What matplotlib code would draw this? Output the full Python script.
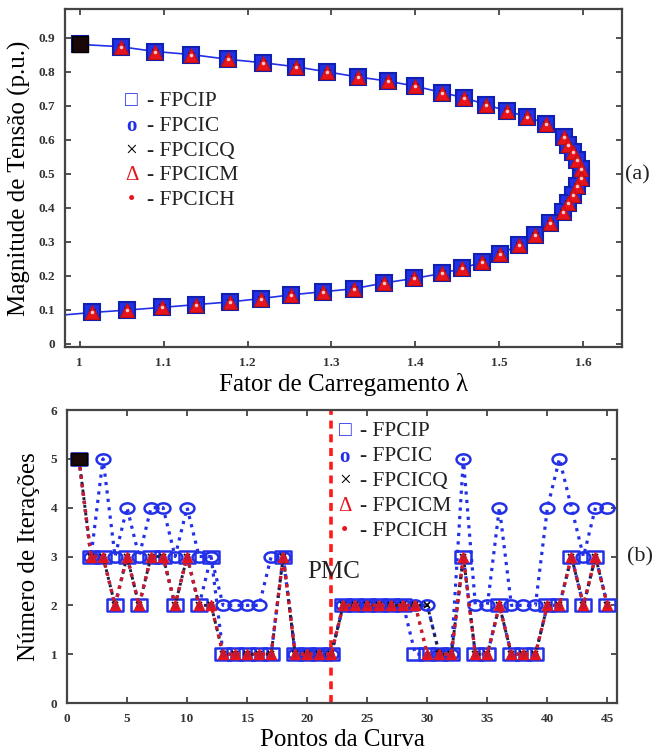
import numpy as np
import matplotlib
matplotlib.use('Agg')
from matplotlib import pyplot as plt
from matplotlib.path import Path
from matplotlib.ticker import FormatStrFormatter

plt.rcParams['font.family'] = ['Liberation Serif', 'DejaVu Serif']

# ---- (a) curva PV, 45 pontos ----
lam = [1.000, 1.049, 1.090, 1.133, 1.177, 1.218, 1.258, 1.295, 1.332, 1.367,
       1.400, 1.432, 1.458, 1.484, 1.509, 1.533, 1.556, 1.577,
       1.582, 1.588, 1.593, 1.597, 1.597, 1.593, 1.588, 1.582,
       1.576, 1.560, 1.543, 1.523, 1.501, 1.480, 1.456, 1.432, 1.398, 1.363,
       1.327, 1.290, 1.252, 1.216, 1.179, 1.138, 1.098, 1.056, 1.015]
v = [0.881, 0.874, 0.860, 0.851, 0.837, 0.827, 0.815, 0.800, 0.785, 0.773,
     0.758, 0.739, 0.724, 0.704, 0.685, 0.668, 0.648, 0.609,
     0.586, 0.563, 0.540, 0.514, 0.488, 0.463, 0.439, 0.414,
     0.387, 0.354, 0.320, 0.290, 0.264, 0.241, 0.222, 0.207, 0.192, 0.179,
     0.162, 0.153, 0.144, 0.133, 0.123, 0.115, 0.107, 0.099, 0.092]
# continuacao da curva ate a borda
lam_tail = [0.982]
v_tail = [0.085]

# ---- (b) numero de iteracoes ----
pontos = list(range(1, 46))
it_fpcip = [5, 3, 3, 2, 3, 2, 3, 3, 2, 3, 2, 3, 1, 1, 1, 1, 1, 3, 1, 1,
            1, 1, 2, 2, 2, 2, 2, 2, 1, 1, 1, 1, 3, 1, 1, 2, 1, 1, 1, 2,
            2, 3, 2, 3, 2]
it_fpcic = [5, 3, 5, 3, 4, 3, 4, 4, 3, 4, 3, 3, 2, 2, 2, 2, 3, 3, 1, 1,
            1, 1, 2, 2, 2, 2, 2, 2, 2, 2, 1, 1, 5, 2, 2, 4, 2, 2, 2, 4,
            5, 4, 3, 4, 4]
it_fpcicq = [5, 3, 3, 2, 3, 2, 3, 3, 2, 3, 2, 2, 1, 1, 1, 1, 1, 3, 1, 1,
             1, 1, 2, 2, 2, 2, 2, 2, 2, 2, 1, 1, 3, 1, 1, 2, 1, 1, 1, 2,
             2, 3, 2, 3, 2]
it_fpcicm = [5, 3, 3, 2, 3, 2, 3, 3, 2, 3, 2, 2, 1, 1, 1, 1, 1, 3, 1, 1,
             1, 1, 2, 2, 2, 2, 2, 2, 2, 1, 1, 1, 3, 1, 1, 2, 1, 1, 1, 2,
             2, 3, 2, 3, 2]
it_fpcich = [5, 3, 3, 2, 3, 2, 3, 3, 2, 3, 2, 2, 1, 1, 1, 1, 1, 3, 1, 1,
             1, 1, 2, 2, 2, 2, 2, 2, 2, 1, 1, 1, 3, 1, 1, 2, 1, 1, 1, 2,
             2, 3, 2, 3, 2]
pmc = 22

nomes = ['FPCIP', 'FPCIC', 'FPCICQ', 'FPCICM', 'FPCICH']
simbolos = ['\u25a1', 'o', '\u00d7', '\u0394', '\u2022']
azul = '#2230e8'
verm = '#e8141c'
cores = [azul, azul, 'black', verm, verm]

# marcadores "esticados" como na figura original
t = np.linspace(0, 2 * np.pi, 60)
elipse = Path(np.column_stack([1.35 * np.cos(t), np.sin(t)]), closed=True)
retang = Path([(-1.3, -1), (1.3, -1), (1.3, 1), (-1.3, 1), (-1.3, -1)], closed=True)

fig = plt.figure(figsize=(6.6, 7.53), dpi=100)
ax1 = fig.add_axes([0.098, 0.539, 0.844, 0.449])
ax2 = fig.add_axes([0.1015, 0.0664, 0.8335, 0.3891])

# ---------- (a) ----------
ax1.plot(lam + lam_tail, v + v_tail, '-', color=azul, lw=1.2, zorder=1)
ax1.plot(lam, v, 's', ms=11.5, mfc=azul, mec='#1020b0', mew=1.5, zorder=2)
ax1.plot(lam, v, 'o', ms=7, mfc='none', mec=azul, mew=1.2, zorder=3)
ax1.plot(lam, v, 'x', ms=5, color='black', mew=1.0, zorder=4)
ax1.plot(lam, v, '^', ms=10.5, mfc=verm, mec='#c01010', mew=0.8, zorder=5)
ax1.plot(lam, v, '.', ms=3, color='#ffc8c8', zorder=6)
ax1.plot(lam[:1], v[:1], 's', ms=12, mfc='#1a0808', mec='black', zorder=7)

ax1.set_xlim(0.982, 1.646)
ax1.set_ylim(-0.01, 0.985)
ax1.set_xticks(np.arange(1.0, 1.61, 0.1))
ax1.set_yticks(np.arange(0, 0.91, 0.1))
ax1.xaxis.set_major_formatter(FormatStrFormatter('%g'))
ax1.yaxis.set_major_formatter(FormatStrFormatter('%g'))
ax1.set_xlabel('Fator de Carregamento \u03bb', fontsize=18, labelpad=3)
ax1.set_ylabel('Magnitude de Tens\u00e3o (p.u.)', fontsize=18, labelpad=5)

for i in range(5):
    y = 0.726 - i * 0.073
    ax1.text(0.12, y, simbolos[i], color=cores[i], fontsize=15,
             fontweight='bold' if i == 1 else 'normal',
             ha='center', va='center', transform=ax1.transAxes)
    ax1.text(0.148, y, '- ' + nomes[i], fontsize=15.5, color='#222222',
             ha='left', va='center', transform=ax1.transAxes)

# ---------- (b) ----------
ax2.plot(pontos, it_fpcic, ':', color=azul, lw=2.3, marker=elipse, ms=10,
         mfc='none', mec=azul, mew=1.8, zorder=2)
ax2.plot(pontos, it_fpcip, ':', color=azul, lw=2.3, marker=retang, ms=11.5,
         mfc='none', mec=azul, mew=1.8, zorder=3)
ax2.plot(pontos, it_fpcicq, ':', color='#202040', lw=2.1, marker='x', ms=5,
         mec='black', mew=1.2, zorder=4)
ax2.plot(pontos, it_fpcicm, ':', color='#f05030', lw=2.3, marker='^', ms=7.5,
         mfc=verm, mec=verm, zorder=5)
ax2.plot(pontos, it_fpcich, ':', color='#c81830', lw=2.3, marker='.', ms=7,
         zorder=6)
ax2.plot(pontos[:1], it_fpcip[:1], marker=retang, ms=12, mfc='#1a0808',
         mec='black', zorder=7)
ax2.axvline(pmc, color='#ff1a1a', lw=2.6, ls=(0, (2.2, 1.6)), zorder=1)
ax2.text(0.484, 0.447, 'PMC', fontsize=18, color='#222222', ha='center',
         va='center', transform=ax2.transAxes)

ax2.set_xlim(0, 45.8)
ax2.set_ylim(0, 6)
ax2.set_xticks(range(0, 46, 5))
ax2.set_yticks(range(0, 7))
ax2.set_xlabel('Pontos da Curva', fontsize=18, labelpad=3)
ax2.set_ylabel('N\u00famero de Itera\u00e7\u00f5es', fontsize=18, labelpad=8)

for i in range(5):
    y = 0.926 - i * 0.085
    ax2.text(0.505, y, simbolos[i], color=cores[i], fontsize=15,
             fontweight='bold' if i == 1 else 'normal',
             ha='center', va='center', transform=ax2.transAxes)
    ax2.text(0.533, y, '- ' + nomes[i], fontsize=15.5, color='#222222',
             ha='left', va='center', transform=ax2.transAxes)

for ax in (ax1, ax2):
    ax.tick_params(direction='in', top=True, right=True, length=4, width=1.2,
                   labelsize=9.5, colors='#333333', pad=7)
    for s in ax.spines.values():
        s.set_linewidth(1.6)
        s.set_color('#444444')
    for lb in ax.get_xticklabels() + ax.get_yticklabels():
        lb.set_fontweight('bold')

fig.text(0.947, 0.768, '(a)', fontsize=16, color='#222222', ha='left', va='center')
fig.text(0.95, 0.26, '(b)', fontsize=16, color='#222222', ha='left', va='center')

fig.savefig('out.png', dpi=100)
